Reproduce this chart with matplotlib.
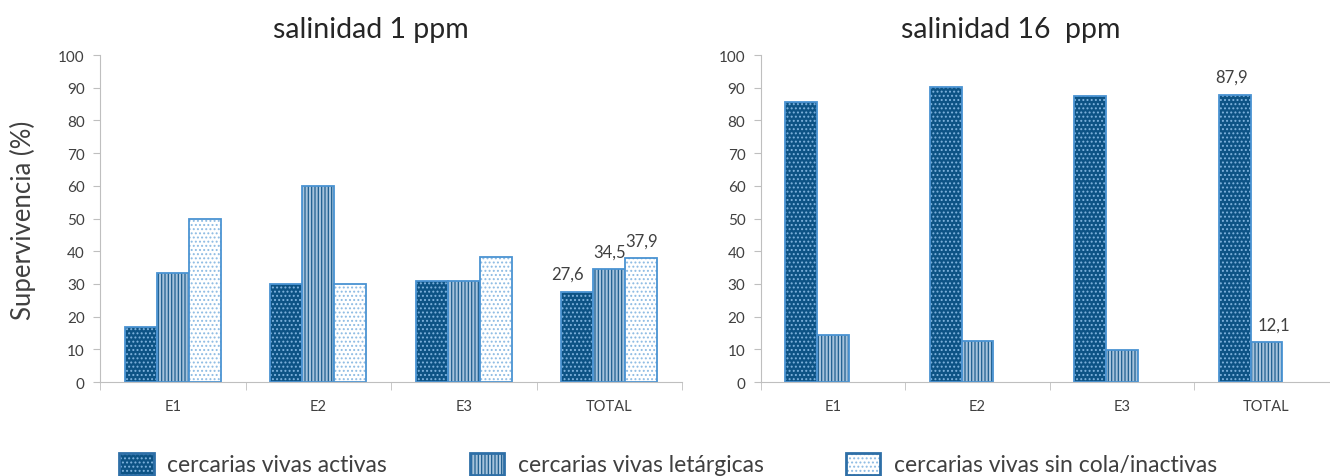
import numpy as np
import matplotlib.pyplot as plt
from matplotlib.patches import Patch

plt.rcParams['font.family'] = ['Lato', 'DejaVu Sans']
plt.rcParams['hatch.linewidth'] = 0.9

categories = ["E1", "E2", "E3", "TOTAL"]
series = ["cercarias vivas activas", "cercarias vivas letárgicas",
          "cercarias vivas sin cola/inactivas"]

# salinidad 1 ppm
activas_1 = [16.7, 30.0, 30.8, 27.6]
letargicas_1 = [33.3, 60.0, 30.8, 34.5]
inactivas_1 = [50.0, 30.0, 38.3, 37.9]

# salinidad 16 ppm
activas_16 = [85.7, 90.3, 87.5, 87.9]
letargicas_16 = [14.3, 12.4, 9.8, 12.1]
inactivas_16 = [0.0, 0.0, 0.0, 0.0]

styles = [
    dict(face="#0d5385", hatch_c="#7fb3de", hatch="...."),
    dict(face="#a6c3dc", hatch_c="#1f5f90", hatch="|||||"),
    dict(face="white", hatch_c="#8dbbe3", hatch="...."),
]
edge = "#4a93d2"
width = 0.22
grey = "#404040"


def draw(ax, vals, labels_on, label_dx):
    x = np.arange(len(categories))
    for i, (v, st) in enumerate(zip(vals, styles)):
        v = np.array(v)
        pos = x + (i - 1) * width
        keep = v > 0
        if not keep.any():
            continue
        ax.bar(pos[keep], v[keep], width, color=st["face"], hatch=st["hatch"],
               edgecolor=st["hatch_c"], linewidth=0)
        ax.bar(pos[keep], v[keep], width, fill=False, edgecolor=edge,
               linewidth=1.3)
        if labels_on[i]:
            ax.text(pos[-1] + label_dx[i], v[-1] + 3,
                    f"{v[-1]:.1f}".replace(".", ","),
                    ha="center", va="bottom", fontsize=12, color=grey)
    ax.set_xlim(-0.5, 3.5)
    ax.set_ylim(0, 100)
    ax.set_yticks(range(0, 101, 10))
    ax.set_xticks(x)
    ax.set_xticklabels(categories)
    ax.set_xticks(np.arange(-0.5, 4.0, 1.0), minor=True)
    ax.tick_params(axis="x", which="major", length=0, pad=12,
                   labelsize=10.5, labelcolor=grey)
    ax.tick_params(axis="x", which="minor", length=6, color="#bfbfbf")
    ax.tick_params(axis="y", length=5, color="#bfbfbf", labelsize=11,
                   labelcolor=grey, pad=6)
    for s in ["top", "right"]:
        ax.spines[s].set_visible(False)
    for s in ["left", "bottom"]:
        ax.spines[s].set_color("#bfbfbf")


fig = plt.figure(figsize=(13.3, 4.77), dpi=100)
ax1 = fig.add_axes([0.0752, 0.197, 0.4376, 0.6855])
ax2 = fig.add_axes([0.572, 0.197, 0.4346, 0.6855])

draw(ax1, [activas_1, letargicas_1, inactivas_1], [True, True, True],
     [-0.07, 0, 0])
draw(ax2, [activas_16, letargicas_16, inactivas_16], [True, True, False],
     [-0.02, 0.05, 0])

fig.text(371 / 1330, 1 - 30 / 477, "salinidad 1 ppm", ha="center",
         va="center", fontsize=20.5, color="#262626")
fig.text(1011 / 1330, 1 - 30 / 477, "salinidad 16  ppm", ha="center",
         va="center", fontsize=20.5, color="#262626")
fig.text(23 / 1330, 1 - 220 / 477, "Supervivencia (%)", rotation=90,
         ha="center", va="center", fontsize=18.5, color=grey)

handles = [Patch(facecolor=st["face"], hatch=st["hatch"],
                 edgecolor=st["hatch_c"], linewidth=0) for st in styles]
handles = [(h, Patch(fill=False, edgecolor="#2e6fa7", linewidth=2))
           for h in handles]
fig.legend(handles, series, ncol=3, loc="center left",
           bbox_to_anchor=(110 / 1330, 1 - 465 / 477), frameon=False,
           fontsize=16.5, handlelength=1.5, handleheight=1.1,
           columnspacing=3.6, handletextpad=0.6, labelcolor=grey,
           borderaxespad=0)

fig.savefig("out.png", dpi=100)
